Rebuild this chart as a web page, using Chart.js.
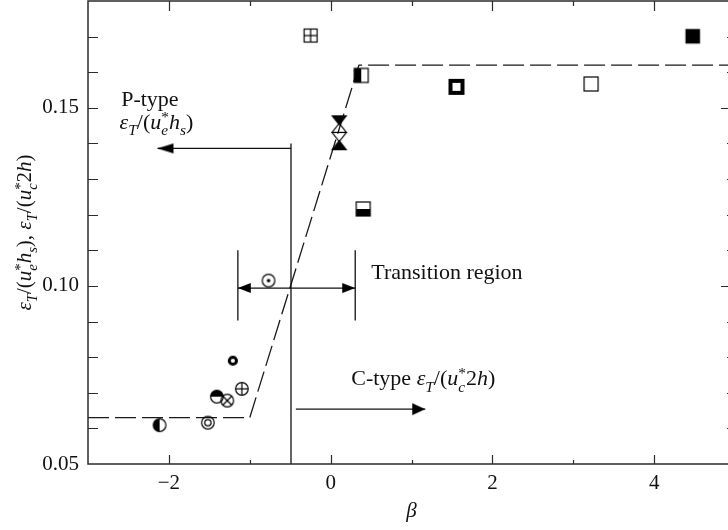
<!DOCTYPE html>
<html>
<head>
<meta charset="utf-8">
<script src="https://cdn.jsdelivr.net/npm/chart.js@4.4.1/dist/chart.umd.min.js"></script>
<style>
  html, body { margin: 0; padding: 0; background: #fff; overflow: hidden; }
</style>
</head>
<body>
<canvas id="chart" width="742" height="530"></canvas>
<script>
// axis ticks
const xTickLabels = [-2, 0, 2, 4];
const xMinorTicks = [-2, -1, 0, 1, 2, 3, 4];
const yTickLabels = [0.05, 0.10, 0.15];
const yMinorTicks = [0.06, 0.07, 0.08, 0.09, 0.10, 0.11, 0.12, 0.13, 0.14, 0.15, 0.16, 0.17];

// measured eddy diffusivity vs. beta, one symbol per case
const betaPoints = [-2.115, -1.518, -1.407, -1.278, -1.098, -1.209, -0.768, -0.248, 0.378,
                    0.106, 0.106, 0.106, 0.106, 0.403, 1.556, 3.221, 4.477];
const epsPoints  = [0.0609, 0.0616, 0.0689, 0.0678, 0.0711, 0.0790, 0.1015, 0.1703, 0.1591,
                    0.1465, 0.1444, 0.1418, 0.1395, 0.1216, 0.1559, 0.1567, 0.1701];
const pointSymbols = ['circleHalfLeft', 'circleDouble', 'circleHalfTop', 'circleCross', 'circlePlus',
                      'ringBold', 'circleDot', 'squarePlus', 'squareHalfLeft',
                      'triDownFilled', 'triUpOpen', 'triDownOpen', 'triUpFilled',
                      'squareHalfBottom', 'squareBold', 'square', 'squareFilled'];

// piecewise fit (dashed)
const fitBeta = [-3, -1.0, 0.35, 5];
const fitEps  = [0.063, 0.063, 0.162, 0.162];

// guide lines: divider, arrow shafts, transition bars
const guideSegments = [
  [[-0.49, 0.050], [-0.49, 0.140]],
  [[-0.49, 0.1386], [-2.14, 0.1386]],
  [[-0.43, 0.0654], [1.17, 0.0654]],
  [[-1.147, 0.0903], [-1.147, 0.1100]],
  [[0.304, 0.0903], [0.304, 0.1100]],
  [[-1.147, 0.0994], [0.304, 0.0994]]
];
const arrowTipBeta = [-2.14, 1.17, -1.147, 0.304];
const arrowTipEps  = [0.1386, 0.0654, 0.0994, 0.0994];
const arrowPointsLeft = [true, false, true, false];

const FONT = '"Liberation Serif", "Times New Roman", serif';
const INK = '#111';

function makeGlyph(w, h, draw) {
  const c = document.createElement('canvas');
  c.width = w; c.height = h;
  const g = c.getContext('2d');
  g.translate(w / 2, h / 2);
  g.strokeStyle = '#000';
  g.fillStyle = '#000';
  g.lineWidth = 1.2;
  draw(g);
  return c;
}

const R = 6.3, A = 7;
function ring(g, r) { g.beginPath(); g.arc(0, 0, r, 0, Math.PI * 2); g.stroke(); }
function line(g, x1, y1, x2, y2) { g.beginPath(); g.moveTo(x1, y1); g.lineTo(x2, y2); g.stroke(); }
function tri(g, down, filled) {
  const hw = 7, hh = 4.5, s = down ? -1 : 1;
  g.beginPath();
  g.moveTo(0, -s * hh); g.lineTo(-hw, s * hh); g.lineTo(hw, s * hh); g.closePath();
  if (filled) g.fill();
  g.stroke();
}

const glyphs = {
  circleHalfLeft: makeGlyph(22, 22, g => {
    g.beginPath(); g.arc(0, 0, R, Math.PI / 2, Math.PI * 1.5); g.closePath(); g.fill(); ring(g, R);
  }),
  circleHalfTop: makeGlyph(22, 22, g => {
    g.beginPath(); g.arc(0, 0, R, Math.PI, Math.PI * 2); g.closePath(); g.fill(); ring(g, R);
  }),
  circleDouble: makeGlyph(22, 22, g => { ring(g, R); ring(g, 3.2); }),
  circleCross: makeGlyph(22, 22, g => {
    ring(g, R); const d = R * Math.SQRT1_2;
    line(g, -d, -d, d, d); line(g, -d, d, d, -d);
  }),
  circlePlus: makeGlyph(22, 22, g => { ring(g, R); line(g, -R, 0, R, 0); line(g, 0, -R, 0, R); }),
  ringBold: makeGlyph(22, 22, g => { g.lineWidth = 3; ring(g, 3.6); }),
  circleDot: makeGlyph(22, 22, g => {
    ring(g, R); g.beginPath(); g.arc(0, 0, 1.8, 0, Math.PI * 2); g.fill();
  }),
  squarePlus: makeGlyph(22, 22, g => {
    const a = 6.5; g.strokeRect(-a, -a, 2 * a, 2 * a); line(g, -a, 0, a, 0); line(g, 0, -a, 0, a);
  }),
  squareHalfLeft: makeGlyph(22, 22, g => { g.fillRect(-A, -A, A, 2 * A); g.strokeRect(-A, -A, 2 * A, 2 * A); }),
  squareHalfBottom: makeGlyph(22, 22, g => { g.fillRect(-A, 0, 2 * A, A); g.strokeRect(-A, -A, 2 * A, 2 * A); }),
  squareBold: makeGlyph(22, 22, g => { g.lineWidth = 4; g.strokeRect(-6, -6, 12, 12); }),
  square: makeGlyph(22, 22, g => { g.strokeRect(-A, -A, 2 * A, 2 * A); }),
  squareFilled: makeGlyph(22, 22, g => { g.fillRect(-7.3, -7.3, 14.6, 14.6); }),
  triDownFilled: makeGlyph(22, 22, g => tri(g, true, true)),
  triUpOpen: makeGlyph(22, 22, g => tri(g, false, false)),
  triDownOpen: makeGlyph(22, 22, g => tri(g, true, false)),
  triUpFilled: makeGlyph(22, 22, g => tri(g, false, true))
};

// arrowhead with its tip at the canvas centre, pointing right
function arrowHead(len, half) {
  return makeGlyph(2 * len + 4, 2 * half + 4, g => {
    g.beginPath(); g.moveTo(0, 0); g.lineTo(-len, -half); g.lineTo(-len, half); g.closePath(); g.fill();
  });
}
const arrowGlyphs = [arrowHead(16, 5), arrowHead(13, 6), arrowHead(13, 5), arrowHead(13, 5)];

// rich text: italic, sub/superscript runs
function richText(ctx, parts, x, y, size, measureOnly) {
  let cx = x, held = 0;
  parts.forEach(p => {
    const small = p.pos === 'sub' || p.pos === 'sup';
    const s = small ? size * 0.7 : size;
    ctx.font = (p.it ? 'italic ' : '') + s + 'px ' + FONT;
    let dy = 0;
    if (p.pos === 'sub') dy = size * 0.3;
    if (p.pos === 'sup') dy = -size * 0.3;
    if (!measureOnly) ctx.fillText(p.t, cx, y + dy);
    const w = ctx.measureText(p.t).width;
    if (p.stack) { held = w; }
    else { cx += Math.max(w, held); held = 0; }
  });
  return cx - x;
}

const epsP = [
  { t: 'ε', it: 1 }, { t: 'T', it: 1, pos: 'sub' }, { t: '/(' }, { t: 'u', it: 1 },
  { t: '*', pos: 'sup', stack: 1 }, { t: 'e', it: 1, pos: 'sub' }, { t: 'h', it: 1 },
  { t: 's', it: 1, pos: 'sub' }, { t: ')' }
];
const epsC = [
  { t: 'ε', it: 1 }, { t: 'T', it: 1, pos: 'sub' }, { t: '/(' }, { t: 'u', it: 1 },
  { t: '*', pos: 'sup', stack: 1 }, { t: 'c', it: 1, pos: 'sub' }, { t: '2' }, { t: 'h', it: 1 },
  { t: ')' }
];

const notes = [
  { beta: -2.59, eps: 0.1506, parts: [{ t: 'P-type' }] },
  { beta: -2.61, eps: 0.1441, parts: epsP },
  { beta: 0.502, eps: 0.1020, parts: [{ t: 'Transition region' }] },
  { beta: 0.255, eps: 0.0722, parts: [{ t: 'C-type ' }].concat(epsC) }
];

const textPlugin = {
  id: 'texts',
  afterDraw(chart) {
    const { ctx, chartArea: a, scales: { x, y } } = chart;
    ctx.save();
    ctx.fillStyle = INK;
    ctx.textBaseline = 'alphabetic';
    ctx.textAlign = 'left';
    notes.forEach(n => richText(ctx, n.parts, x.getPixelForValue(n.beta), y.getPixelForValue(n.eps), 22));

    // y-axis title
    const yParts = epsP.concat([{ t: ', ' }], epsC);
    ctx.save();
    ctx.translate(31, (a.top + a.bottom) / 2);
    ctx.rotate(-Math.PI / 2);
    const w = richText(ctx, yParts, 0, 0, 21, true);
    richText(ctx, yParts, -w / 2, 0, 21);
    ctx.restore();

    // x-axis title
    ctx.font = 'italic 21px ' + FONT;
    ctx.textAlign = 'center';
    ctx.fillText('β', (a.left + a.right) / 2, 517);
    ctx.restore();
  }
};

const isMajor = (list, v) => list.some(t => Math.abs(t - v) < 1e-9);

const framePlugin = {
  id: 'frame',
  afterDatasetsDraw(chart) {
    const { ctx, chartArea: a, scales: { x, y } } = chart;
    ctx.save();
    ctx.strokeStyle = '#2b2b2b';
    ctx.lineWidth = 1.5;
    ctx.strokeRect(a.left, a.top, a.right - a.left, a.bottom - a.top);
    ctx.lineWidth = 1.2;
    ctx.beginPath();
    xMinorTicks.forEach(v => {
      const px = Math.round(x.getPixelForValue(v)) + 0.5;
      const major = isMajor(xTickLabels, v);
      ctx.moveTo(px, a.bottom); ctx.lineTo(px, a.bottom - (major ? 9 : 4));
      ctx.moveTo(px, a.top); ctx.lineTo(px, a.top + (major ? 10 : 5));
    });
    yMinorTicks.forEach(v => {
      const py = Math.round(y.getPixelForValue(v)) + 0.5;
      const major = isMajor(yTickLabels, v);
      ctx.moveTo(a.left, py); ctx.lineTo(a.left + 10, py);
      ctx.moveTo(a.right, py); ctx.lineTo(a.right - (major ? 14 : 8), py);
    });
    ctx.stroke();
    ctx.restore();
  }
};

const datasets = [];

// measured points
datasets.push({
  data: betaPoints.map((b, i) => ({ x: b, y: epsPoints[i] })),
  pointStyle: c => glyphs[pointSymbols[c.dataIndex]],
  pointRadius: 6,
  showLine: false
});

// arrowheads
datasets.push({
  data: arrowTipBeta.map((b, i) => ({ x: b, y: arrowTipEps[i] })),
  pointStyle: c => arrowGlyphs[c.dataIndex],
  pointRotation: c => (arrowPointsLeft[c.dataIndex] ? 180 : 0),
  pointRadius: 6,
  showLine: false
});

// guide lines
guideSegments.forEach(seg => {
  datasets.push({
    data: seg.map(p => ({ x: p[0], y: p[1] })),
    showLine: true,
    borderColor: INK,
    borderWidth: 1.3,
    pointRadius: 0
  });
});

// dashed fit
datasets.push({
  data: fitBeta.map((b, i) => ({ x: b, y: fitEps[i] })),
  showLine: true,
  borderColor: '#1a1a1a',
  borderWidth: 1.3,
  borderDash: [21, 6],
  pointRadius: 0,
  tension: 0
});

const tickFont = { family: FONT, size: 21 };

new Chart(document.getElementById('chart').getContext('2d'), {
  type: 'scatter',
  data: { datasets },
  options: {
    responsive: false,
    animation: false,
    events: [],
    layout: { padding: { top: 1, right: 6, left: 0, bottom: 0 } },
    plugins: { legend: { display: false }, tooltip: { enabled: false } },
    scales: {
      x: {
        type: 'linear', min: -3, max: 5,
        grid: { display: false, drawTicks: false },
        border: { display: false },
        afterBuildTicks: s => { s.ticks = xTickLabels.map(v => ({ value: v })); },
        afterFit: s => { s.height = 66; s.paddingLeft = 0; s.paddingRight = 0; },
        ticks: {
          padding: 7, font: tickFont, color: INK, maxRotation: 0, autoSkip: false,
          callback: v => (v < 0 ? '\u2212' + Math.abs(v) : String(v))
        }
      },
      y: {
        type: 'linear', min: 0.05, max: 0.18,
        grid: { display: false, drawTicks: false },
        border: { display: false },
        afterBuildTicks: s => { s.ticks = yTickLabels.map(v => ({ value: v })); },
        afterFit: s => { s.width = 88; s.paddingTop = 0; s.paddingBottom = 0; },
        ticks: {
          padding: 9, font: tickFont, color: INK, autoSkip: false,
          callback: v => v.toFixed(2)
        }
      }
    }
  },
  plugins: [
    framePlugin,
    textPlugin,
    {
      // keep the plot frame flush with the top of the canvas
      id: 'pinTop',
      afterLayout(chart) {
        const a = chart.chartArea, y = chart.scales.y, x = chart.scales.x;
        const top = 1;
        a.top = top;
        a.height = a.bottom - top;
        y.top = top;
        y.height = a.bottom - top;
        y.configure();
        x.configure();
      }
    }
  ]
});
</script>
</body>
</html>
